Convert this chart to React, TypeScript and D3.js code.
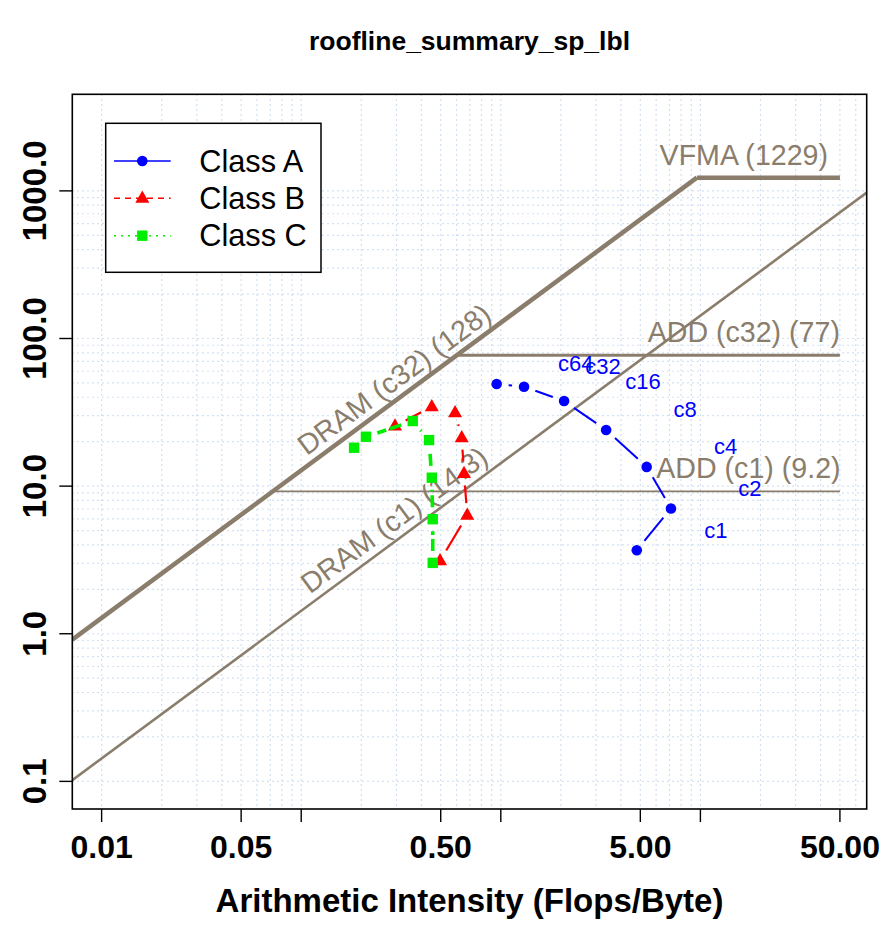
import * as d3 from 'd3';

// ---- data ----
const pointLabels = ['c1', 'c2', 'c4', 'c8', 'c16', 'c32', 'c64'];
const classAx = [4.8, 7.12, 5.38, 3.37, 2.075, 1.307, 0.953];
const classAy = [3.68, 7.06, 13.5, 24.0, 37.7, 47.1, 49.2];
const classBx = [0.496, 0.679, 0.654, 0.637, 0.59, 0.451, 0.295];
const classBy = [3.12, 6.36, 12.2, 21.3, 31.4, 34.5, 25.5];
const classCx = [0.456, 0.456, 0.451, 0.437, 0.362, 0.211, 0.184];
const classCy = [3.02, 5.97, 11.4, 20.5, 27.6, 21.6, 18.2];

const xTicks = [0.01, 0.05, 0.1, 0.5, 1, 5, 10, 50];
const xTickLabels = ['0.01', '0.05', '', '0.50', '', '5.00', '', '50.00'];
const yTicks = [0.1, 1, 10, 100, 1000];
const yTickLabels = ['0.1', '1.0', '10.0', '100.0', '1000.0'];

// bandwidth ceilings (GB/s) and compute ceilings (GFlop/s)
const dramNames = ['DRAM (c32) (128)', 'DRAM (c1) (14.3)'];
const dramValues = [128, 14.3];
const dramWidths = [4.5, 2.6];
const peakNames = ['VFMA (1229)', 'ADD (c32) (77)', 'ADD (c1) (9.2)'];
const peakValues = [1229, 77, 9.2];
const peakWidths = [4.5, 3.2, 1.8];
const peakLabelX = [16.5, 16.5, 17.4];

const W = 880;
const H = 925;
const plot = { left: 72.3, right: 866.7, top: 94.3, bottom: 809 };
const roof = '#8B7D6B';
const gridColor = '#c2d5ec';
const font = '"Liberation Sans", Arial, Helvetica, sans-serif';

const x = d3.scaleLog().domain([0.00713, 68.1]).range([plot.left, plot.right]);
const y = d3.scaleLog().domain([0.065, 4510]).range([plot.bottom, plot.top]);

// R type="b": segments with a gap around each point
function gapSegments(xs: number[], ys: number[], gap: number) {
  const segs: number[][] = [];
  for (let i = 0; i < xs.length - 1; i++) {
    const x1 = x(xs[i]), y1 = y(ys[i]), x2 = x(xs[i + 1]), y2 = y(ys[i + 1]);
    const len = Math.hypot(x2 - x1, y2 - y1);
    if (len <= 2 * gap) continue;
    const ux = (x2 - x1) / len, uy = (y2 - y1) / len;
    segs.push([x1 + ux * gap, y1 + uy * gap, x2 - ux * gap, y2 - uy * gap]);
  }
  return segs;
}

const tri = (cx: number, cy: number, s: number) =>
  `M${cx},${cy - s * 0.62}L${cx + s * 0.56},${cy + s * 0.36}L${cx - s * 0.56},${cy + s * 0.36}Z`;

export default function App() {
  const angle = (Math.atan2(y(1) - y(10), x(10) - x(1)) * 180) / Math.PI;
  const xmax = 50;
  const ridge = peakValues[0] / dramValues[0];

  const gridX = [0.01, 0.1, 1, 10].flatMap(d => d3.range(1, 10).map(k => k * d)).filter(v => v <= 68);
  const gridY = [0.1, 1, 10, 100].flatMap(d => d3.range(1, 10).map(k => k * d)).concat([1000]);

  const line = d3.line<[number, number]>().x(d => x(d[0])).y(d => y(d[1]));

  const series = [
    { name: 'Class A', xs: classAx, ys: classAy, color: '#0000ff', width: 2, dash: undefined as string | undefined, legendDash: undefined as string | undefined },
    { name: 'Class B', xs: classBx, ys: classBy, color: '#ff0000', width: 2.2, dash: '40,6', legendDash: '6,5' },
    { name: 'Class C', xs: classCx, ys: classCy, color: '#00ee00', width: 3.6, dash: '12,4', legendDash: '2,5' },
  ];

  const marker = (i: number, cx: number, cy: number, key: string) => {
    if (i === 0) return <circle key={key} cx={cx} cy={cy} r={5.3} fill="#0000ff" />;
    if (i === 1) return <path key={key} d={tri(cx, cy, 12.5)} fill="#ff0000" />;
    return <rect key={key} x={cx - 5.2} y={cy - 5.2} width={10.4} height={10.4} fill="#00ee00" />;
  };

  const legendRows = [161, 198.3, 235.7];

  return (
    <svg width={W} height={H} style={{ display: 'block', position: 'absolute', left: 0, top: 0 }} fontFamily={font}>
      <rect width={W} height={H} fill="#fff" />
      <defs>
        <clipPath id="plotclip">
          <rect x={plot.left} y={plot.top} width={plot.right - plot.left} height={plot.bottom - plot.top} />
        </clipPath>
      </defs>

      <text x={(plot.left + plot.right) / 2} y={50} textAnchor="middle" fontWeight="bold" fontSize={26.5}>
        roofline_summary_sp_lbl
      </text>

      {/* dotted grid */}
      <g stroke={gridColor} strokeWidth={1.2} strokeDasharray="1.4,3.6">
        {gridX.map((v, i) => (
          <line key={'gx' + i} x1={x(v)} x2={x(v)} y1={plot.top} y2={plot.bottom} />
        ))}
        {gridY.map((v, i) => (
          <line key={'gy' + i} x1={plot.left} x2={plot.right} y1={y(v)} y2={y(v)} />
        ))}
      </g>

      {/* roofline ceilings */}
      <g clipPath="url(#plotclip)" fill="none" stroke={roof}>
        <path d={line([[0.00713, dramValues[0] * 0.00713], [ridge, peakValues[0]]]) || ''} strokeWidth={dramWidths[0]} />
        <path d={line([[0.00713, dramValues[1] * 0.00713], [peakValues[0] / dramValues[1], peakValues[0]]]) || ''} strokeWidth={dramWidths[1]} />
        {peakValues.map((p, i) => (
          <path key={'pk' + i} d={line([[p / dramValues[0], p], [xmax, p]]) || ''} strokeWidth={peakWidths[i]} />
        ))}
      </g>

      {/* ceiling labels */}
      <g fill={roof} fontSize={28.6}>
        {peakNames.map((n, i) => (
          <text key={'pn' + i} x={x(peakLabelX[i])} y={y(peakValues[i]) - 13} textAnchor="middle">
            {n}
          </text>
        ))}
        {dramNames.map((n, i) => {
          const lx = 0.33;
          return (
            <text
              key={'dn' + i}
              transform={`translate(${x(lx)},${y(lx * dramValues[i])}) rotate(${-angle})`}
              y={-8}
              textAnchor="middle"
            >
              {n}
            </text>
          );
        })}
      </g>

      {/* series */}
      {series.map((s, si) => (
        <g key={s.name}>
          {gapSegments(s.xs, s.ys, 12).map((g, i) => (
            <line
              key={i}
              x1={g[0]}
              y1={g[1]}
              x2={g[2]}
              y2={g[3]}
              stroke={s.color}
              strokeWidth={s.width}
              strokeDasharray={s.dash}
            />
          ))}
          {s.xs.map((v, i) => marker(si, x(v), y(s.ys[i]), s.name + i))}
        </g>
      ))}

      {/* point labels for Class A */}
      <g fill="#0000ff" fontSize={22} textAnchor="middle" dominantBaseline="central">
        {pointLabels.map((l, i) => (
          <text key={l} x={x(classAx[i]) + 79} y={y(classAy[i]) - 20}>
            {l}
          </text>
        ))}
      </g>

      {/* legend */}
      <rect x={105.7} y={123.3} width={215.3} height={149} fill="#fff" stroke="#000" strokeWidth={1.5} />
      {series.map((s, i) => (
        <g key={'lg' + i}>
          <line
            x1={114}
            x2={170.7}
            y1={legendRows[i]}
            y2={legendRows[i]}
            stroke={s.color}
            strokeWidth={1.5}
            strokeDasharray={s.legendDash}
          />
          {marker(i, 142.3, legendRows[i], 'lm' + i)}
          <text x={199.3} y={legendRows[i]} fontSize={30.7} dominantBaseline="central">
            {s.name}
          </text>
        </g>
      ))}

      {/* plot box */}
      <rect
        x={plot.left}
        y={plot.top}
        width={plot.right - plot.left}
        height={plot.bottom - plot.top}
        fill="none"
        stroke="#000"
        strokeWidth={1.6}
      />

      {/* x axis */}
      <g>
        {xTicks.map((t, i) => (
          <g key={'xt' + i}>
            <line x1={x(t)} x2={x(t)} y1={plot.bottom} y2={plot.bottom + 13} stroke="#000" strokeWidth={1.4} />
            {xTickLabels[i] && (
              <text x={x(t)} y={858} textAnchor="middle" fontWeight="bold" fontSize={32}>
                {xTickLabels[i]}
              </text>
            )}
          </g>
        ))}
        <text x={(plot.left + plot.right) / 2} y={912} textAnchor="middle" fontWeight="bold" fontSize={33}>
          Arithmetic Intensity (Flops/Byte)
        </text>
      </g>

      {/* y axis */}
      <g>
        {yTicks.map((t, i) => (
          <g key={'yt' + i}>
            <line x1={plot.left - 13} x2={plot.left} y1={y(t)} y2={y(t)} stroke="#000" strokeWidth={1.4} />
            <text
              transform={`translate(46,${y(t)}) rotate(-90)`}
              textAnchor="middle"
              fontWeight="bold"
              fontSize={33}
            >
              {yTickLabels[i]}
            </text>
          </g>
        ))}
      </g>
    </svg>
  );
}
